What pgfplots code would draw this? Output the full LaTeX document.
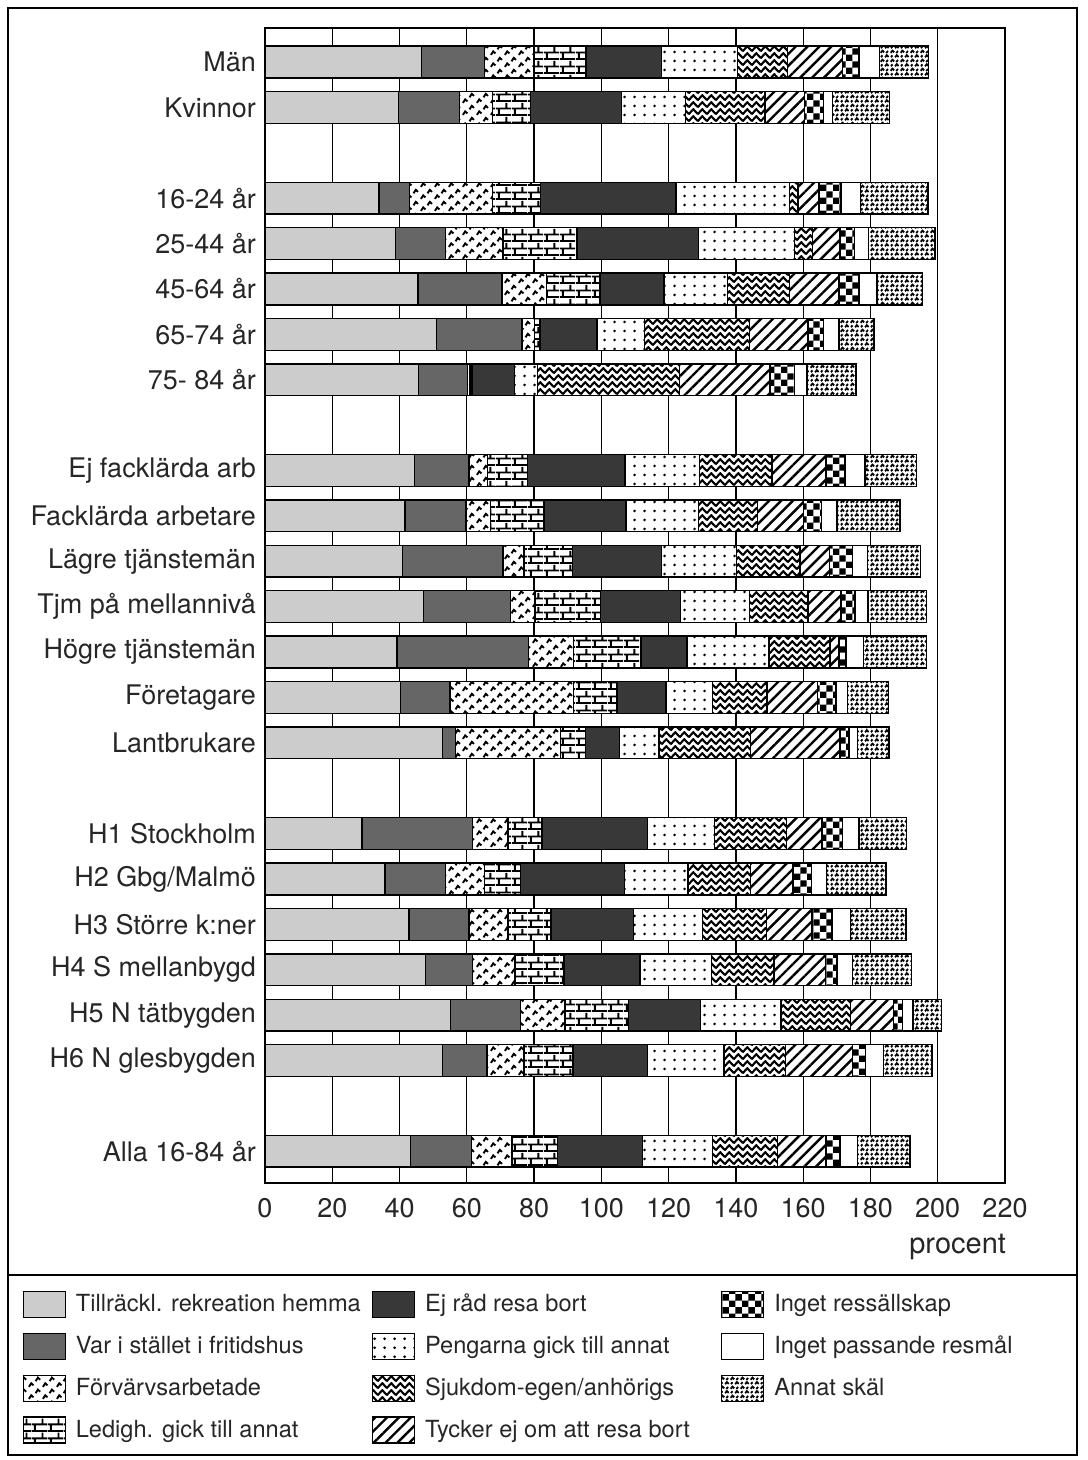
\documentclass[border=0pt]{standalone}
\usepackage{fontspec}
\setmainfont{TeX Gyre Heros}
\usepackage{pgfplots}
\pgfplotsset{compat=1.18}
\usepackage{pgfplotstable}
\usetikzlibrary{patterns,patterns.meta}

\pgfdeclarepattern{name=zig, type=uncolored,
  bottom left={\pgfpoint{0pt}{0pt}}, top right={\pgfpoint{4.4pt}{3.6pt}},
  tile size={\pgfpoint{4.4pt}{3.6pt}},
  code={\pgfsetlinewidth{1.1pt}
    \pgfpathmoveto{\pgfpoint{-0.2pt}{0.4pt}}\pgfpathlineto{\pgfpoint{2.2pt}{3.2pt}}\pgfpathlineto{\pgfpoint{4.6pt}{0.4pt}}
    \pgfusepath{stroke}}}
\pgfdeclarepattern{name=chk, type=uncolored,
  bottom left={\pgfpoint{0pt}{0pt}}, top right={\pgfpoint{6.4pt}{6.4pt}},
  tile size={\pgfpoint{6.4pt}{6.4pt}},
  code={\pgfpathrectangle{\pgfpoint{0pt}{0pt}}{\pgfpoint{3.2pt}{3.2pt}}
    \pgfpathrectangle{\pgfpoint{3.2pt}{3.2pt}}{\pgfpoint{3.2pt}{3.2pt}}
    \pgfusepath{fill}}}
\pgfdeclarepattern{name=brk, type=uncolored,
  bottom left={\pgfpoint{0pt}{0pt}}, top right={\pgfpoint{8pt}{7pt}},
  tile size={\pgfpoint{8pt}{7pt}},
  code={\pgfsetlinewidth{1.0pt}
    \pgfpathmoveto{\pgfpoint{0pt}{0.5pt}}\pgfpathlineto{\pgfpoint{8pt}{0.5pt}}
    \pgfpathmoveto{\pgfpoint{0pt}{4.0pt}}\pgfpathlineto{\pgfpoint{8pt}{4.0pt}}
    \pgfpathmoveto{\pgfpoint{1.5pt}{0.5pt}}\pgfpathlineto{\pgfpoint{1.5pt}{4.0pt}}
    \pgfpathmoveto{\pgfpoint{5.5pt}{4.0pt}}\pgfpathlineto{\pgfpoint{5.5pt}{7pt}}
    \pgfusepath{stroke}}}
\pgfdeclarepattern{name=dts, type=uncolored,
  bottom left={\pgfpoint{0pt}{0pt}}, top right={\pgfpoint{5pt}{4.5pt}},
  tile size={\pgfpoint{5pt}{4.5pt}},
  code={\pgfpathcircle{\pgfpoint{2.5pt}{2.25pt}}{0.8pt}\pgfusepath{fill}}}
\pgfdeclarepattern{name=frv, type=uncolored,
  bottom left={\pgfpoint{0pt}{0pt}}, top right={\pgfpoint{7pt}{6pt}},
  tile size={\pgfpoint{7pt}{6pt}},
  code={\pgfsetlinewidth{1.0pt}
    \pgfpathmoveto{\pgfpoint{0.5pt}{0.6pt}}\pgfpathlineto{\pgfpoint{1.7pt}{2.5pt}}\pgfpathlineto{\pgfpoint{2.9pt}{1.4pt}}
    \pgfpathmoveto{\pgfpoint{4.0pt}{3.6pt}}\pgfpathlineto{\pgfpoint{5.2pt}{5.5pt}}\pgfpathlineto{\pgfpoint{6.4pt}{4.4pt}}
    \pgfusepath{stroke}}}
\pgfdeclarepattern{name=ann, type=uncolored,
  bottom left={\pgfpoint{0pt}{0pt}}, top right={\pgfpoint{5pt}{4.4pt}},
  tile size={\pgfpoint{5pt}{4.4pt}},
  code={\pgfsetlinewidth{0.95pt}
    \pgfpathmoveto{\pgfpoint{0.4pt}{0.6pt}}\pgfpathlineto{\pgfpoint{1.3pt}{1.7pt}}\pgfpathlineto{\pgfpoint{2.3pt}{0.9pt}}
    \pgfpathmoveto{\pgfpoint{2.8pt}{2.9pt}}\pgfpathlineto{\pgfpoint{3.7pt}{4.0pt}}\pgfpathlineto{\pgfpoint{4.7pt}{3.1pt}}
    \pgfpathmoveto{\pgfpoint{3.4pt}{0.5pt}}\pgfpathlineto{\pgfpoint{4.4pt}{1.5pt}}
    \pgfpathmoveto{\pgfpoint{0.5pt}{3.0pt}}\pgfpathlineto{\pgfpoint{1.4pt}{3.9pt}}
    \pgfusepath{stroke}}}

\pgfplotsset{
  sA/.style={fill=black!20, draw=black},
  sB/.style={fill=black!60, draw=black},
  sC/.style={preaction={fill=white}, pattern=frv, pattern color=black, draw=black},
  sD/.style={preaction={fill=white}, pattern=brk, pattern color=black, draw=black},
  sE/.style={fill=black!78, draw=black},
  sF/.style={preaction={fill=white}, pattern=dts, pattern color=black, draw=black},
  sG/.style={preaction={fill=white}, pattern=zig, pattern color=black, draw=black},
  sH/.style={preaction={fill=white}, pattern={Lines[angle=45,distance=4.2pt,line width=1.2pt]}, pattern color=black, draw=black},
  sI/.style={preaction={fill=white}, pattern=chk, pattern color=black, draw=black},
  sJ/.style={fill=white, draw=black},
  sK/.style={preaction={fill=white}, pattern=ann, pattern color=black, draw=black},
  swatch/.style={legend image code/.code={\draw[##1, line width=0.6pt] (0pt,-6.5pt) rectangle (21pt,6.5pt);}},
}

\pgfplotstableread{
y a b c d e f g h i j k
0 46.5 18.8 14.7 15.4 22.5 22.6 14.9 16.3 4.9 6.0 14.6
1 39.6 18.2 9.9 11.3 27.0 19.1 23.6 11.7 5.6 2.7 17.0
3 33.9 9.1 24.6 14.3 40.3 33.8 2.4 6.3 6.5 5.9 20.0
4 38.8 14.9 17.0 22.0 36.1 28.6 5.3 8.3 4.3 4.2 19.7
5 45.5 25.0 13.2 15.9 19.0 18.9 18.5 14.6 6.0 5.3 13.6
6 50.9 25.5 3.7 1.6 17.0 14.2 31.2 17.3 4.6 4.7 10.3
7 45.6 14.6 0.7 0.6 12.7 6.9 42.2 26.8 7.3 3.7 14.6
9 44.5 16.1 5.5 12.0 28.9 22.2 21.5 16.1 5.6 6.0 15.2
10 41.6 18.2 7.3 15.9 24.3 21.5 17.6 13.7 5.3 4.6 18.8
11 40.9 29.8 6.3 14.4 26.5 22.2 19.0 8.8 6.7 4.6 15.7
12 47.1 25.9 7.3 19.5 23.7 20.6 17.3 9.9 4.1 3.9 17.3
13 39.2 39.2 13.3 20.1 13.7 24.3 18.2 2.7 2.0 5.3 18.6
14 40.2 14.8 36.7 12.9 14.6 13.9 16.2 15.0 5.4 3.5 12.1
15 52.7 4.0 31.2 7.3 10.2 11.7 27.3 26.5 2.7 2.6 9.3
17 28.8 32.8 10.6 10.1 31.5 19.9 21.3 10.6 6.0 5.0 14.2
18 35.7 18.0 11.6 10.7 30.8 19.0 18.6 12.6 5.5 4.4 17.7
19 42.8 17.9 11.6 12.7 24.6 20.5 19.0 13.5 6.0 5.4 16.6
20 47.8 13.9 12.6 14.6 22.6 21.3 18.5 15.3 3.4 4.6 17.6
21 55.1 20.9 13.2 18.8 21.5 23.9 20.6 12.9 2.6 3.1 8.6
22 52.7 13.3 11.0 14.6 22.2 22.6 18.3 19.9 4.0 5.3 14.4
24 43.2 18.2 12.0 13.6 25.2 20.8 19.3 14.5 4.1 5.3 15.6
}\data

\begin{document}
\begin{tikzpicture}
\useasboundingbox (0pt,0pt) rectangle (543.5pt,-730pt);
\begin{axis}[
  at={(132.5pt,-14pt)}, anchor=north west,
  scale only axis, width=370pt, height=577.5pt,
  xbar stacked, bar width=0.7,
  y dir=reverse, ymin=-0.75, ymax=24.7,
  xmin=0, xmax=220,
  xtick={0,20,...,220},
  xmajorgrids, grid style={black, line width=0.6pt},
  ytick={0,1,3,4,5,6,7,9,10,11,12,13,14,15,17,18,19,20,21,22,24},
  yticklabels={Män, Kvinnor, 16-24 år, 25-44 år, 45-64 år, 65-74 år, 75- 84 år,
    Ej facklärda arb, Facklärda arbetare, Lägre tjänstemän, Tjm på mellannivå,
    Högre tjänstemän, Företagare, Lantbrukare, H1 Stockholm, H2 Gbg/Malmö,
    H3 Större k:ner, H4 S mellanbygd, H5 N tätbygden, H6 N glesbygden, Alla 16-84 år},
  major tick length=0pt,
  axis line style={black, line width=0.8pt},
  tick label style={font=\fontsize{13.5}{16}\selectfont, text=black!85},
  xticklabel style={yshift=-4pt},
  yticklabel style={xshift=-1pt},
  /pgf/number format/assume math mode=true,
  xlabel={procent},
  xlabel style={at={(axis description cs:0.936,-0.055)}, anchor=center, font=\fontsize{14.5}{17}\selectfont, text=black!85},
  every axis plot post/.append style={line width=0.7pt, swatch},
  legend columns=3,
  legend cell align=left,
  legend style={at={(axis description cs:-0.328,-0.0925)}, anchor=north west,
    draw=none, fill=none, inner sep=0pt,
    font=\fontsize{11.8}{14}\selectfont, text=black!85, row sep=6.6pt,
    /tikz/every odd column/.append style={column sep=3pt},
    /tikz/every even column/.append style={column sep=4pt}},
]
\addplot[sA, forget plot] table[x=a, y=y]{\data};
\addplot[sB, forget plot] table[x=b, y=y]{\data};
\addplot[sC, forget plot] table[x=c, y=y]{\data};
\addplot[sD, forget plot] table[x=d, y=y]{\data};
\addplot[sE, forget plot] table[x=e, y=y]{\data};
\addplot[sF, forget plot] table[x=f, y=y]{\data};
\addplot[sG, forget plot] table[x=g, y=y]{\data};
\addplot[sH, forget plot] table[x=h, y=y]{\data};
\addplot[sI, forget plot] table[x=i, y=y]{\data};
\addplot[sJ, forget plot] table[x=j, y=y]{\data};
\addplot[sK, forget plot] table[x=k, y=y]{\data};

\addlegendimage{sA, swatch}\addlegendentry{\makebox[142pt][l]{Tillräckl. rekreation hemma}}
\addlegendimage{sE, swatch}\addlegendentry{\makebox[142pt][l]{Ej råd resa bort}}
\addlegendimage{sI, swatch}\addlegendentry{Inget ressällskap}
\addlegendimage{sB, swatch}\addlegendentry{\makebox[142pt][l]{Var i stället i fritidshus}}
\addlegendimage{sF, swatch}\addlegendentry{\makebox[142pt][l]{Pengarna gick till annat}}
\addlegendimage{sJ, swatch}\addlegendentry{Inget passande resmål}
\addlegendimage{sC, swatch}\addlegendentry{\makebox[142pt][l]{Förvärvsarbetade}}
\addlegendimage{sG, swatch}\addlegendentry{\makebox[142pt][l]{Sjukdom-egen/anhörigs}}
\addlegendimage{sK, swatch}\addlegendentry{Annat skäl}
\addlegendimage{sD, swatch}\addlegendentry{\makebox[142pt][l]{Ledigh. gick till annat}}
\addlegendimage{sH, swatch}\addlegendentry{\makebox[142pt][l]{Tycker ej om att resa bort}}
\end{axis}
\draw[line width=1pt] (4pt,-4pt) rectangle (538.5pt,-637.5pt);
\draw[line width=1pt] (4pt,-637.5pt) rectangle (538.5pt,-727.5pt);
\end{tikzpicture}
\end{document}
